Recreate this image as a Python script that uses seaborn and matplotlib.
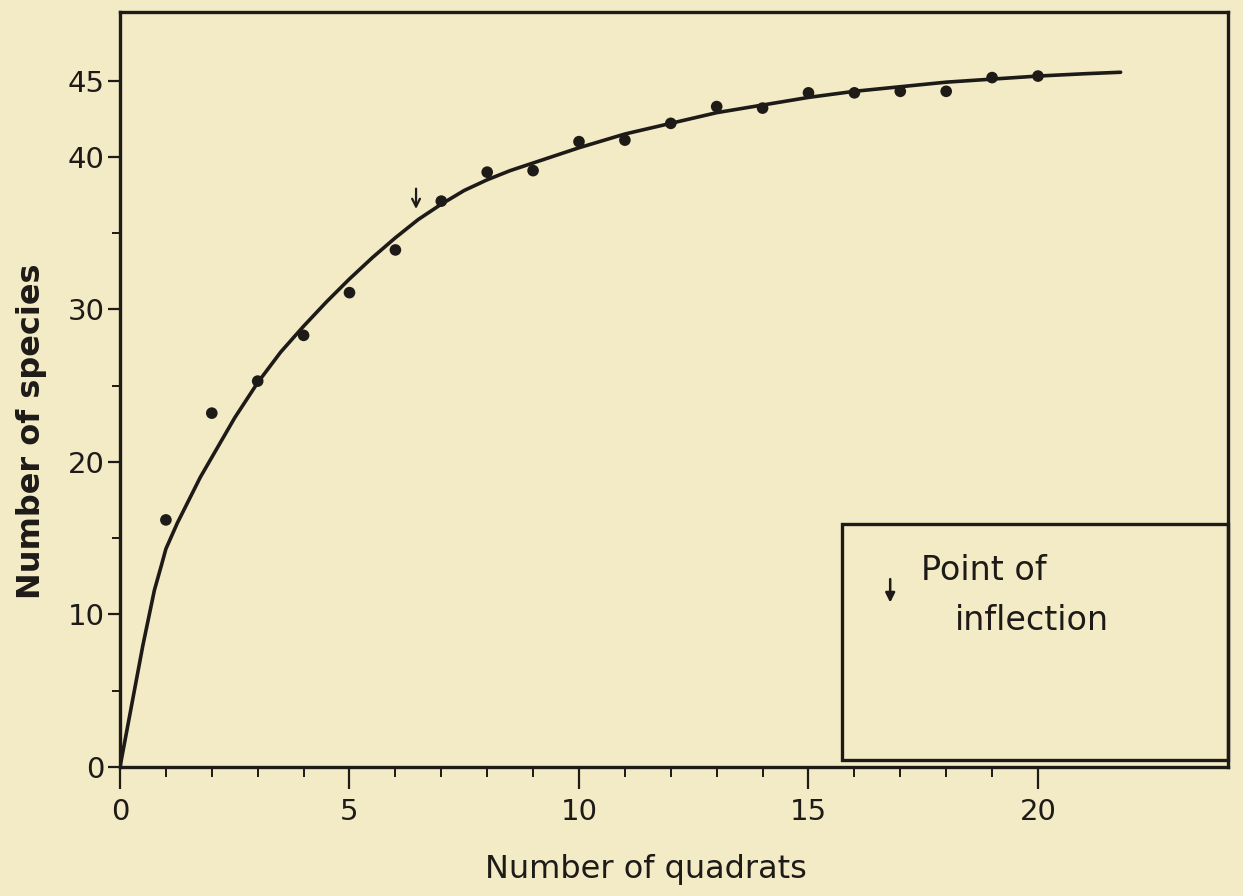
import matplotlib
matplotlib.use("Agg")
import matplotlib.pyplot as plt
import seaborn as sns
import pandas as pd
from matplotlib.patches import Rectangle
from matplotlib.ticker import FixedLocator

# ---- data ----
quadrats = [1, 2, 3, 4, 5, 6, 7, 8, 9, 10, 11, 12, 13, 14, 15, 16, 17, 18, 19, 20]
species = [16.2, 23.2, 25.3, 28.3, 31.1, 33.9, 37.1, 39.0, 39.1, 41.0,
           41.1, 42.2, 43.3, 43.2, 44.2, 44.2, 44.3, 44.3, 45.2, 45.3]

curve_x = [0, 0.5, 0.75, 0.9, 1.0, 1.25, 1.5, 1.75, 2.0, 2.5, 3.0, 3.5, 4.0,
           4.5, 5.0, 5.5, 6.0, 6.5, 7.0, 7.5, 8.0, 8.5, 9.0, 9.5, 10.0, 11.0,
           12.0, 13.0, 14.0, 15.0, 16.0, 17.0, 18.0, 19.0, 20.0, 21.0, 21.8]
curve_y = [0, 8.0, 11.6, 13.2, 14.3, 16.0, 17.5, 19.0, 20.3, 22.9, 25.2, 27.2,
           28.9, 30.5, 32.0, 33.4, 34.7, 35.9, 36.9, 37.8, 38.5, 39.1, 39.6,
           40.1, 40.6, 41.5, 42.2, 42.9, 43.4, 43.9, 44.3, 44.6, 44.9, 45.1,
           45.3, 45.45, 45.55]

inflection_x = 6.45
y_major = [0, 10, 20, 30, 40, 45]
y_minor = [5, 15, 25, 35]
x_major = [0, 5, 10, 15, 20]
x_minor = [1, 2, 3, 4, 6, 7, 8, 9, 11, 12, 13, 14, 16, 17, 18, 19]

bg = "#F2EBC6"
ink = "#1d1a17"

sns.set_theme(style="ticks")
plt.rcParams["font.family"] = ["DejaVu Sans"]

fig = plt.figure(figsize=(12.43, 8.96), dpi=100, facecolor=bg)
ax = fig.add_axes([120 / 1243, 129 / 896, 1108 / 1243, 755 / 896])
ax.set_facecolor(bg)

df_pts = pd.DataFrame({"q": quadrats, "s": species})
df_curve = pd.DataFrame({"q": curve_x, "s": curve_y})

sns.lineplot(data=df_curve, x="q", y="s", ax=ax, color=ink, lw=2.6, sort=False)
sns.scatterplot(data=df_pts, x="q", y="s", ax=ax, color=ink, s=70,
                edgecolor="none", zorder=3)

ax.set_xlim(0, 24.14)
ax.set_ylim(0, 49.5)

for sp in ax.spines.values():
    sp.set_color(ink)
    sp.set_linewidth(2.4)

ax.xaxis.set_major_locator(FixedLocator(x_major))
ax.xaxis.set_minor_locator(FixedLocator(x_minor))
ax.yaxis.set_major_locator(FixedLocator(y_major))
ax.yaxis.set_minor_locator(FixedLocator(y_minor))
ax.set_xticklabels([str(v) for v in x_major])
ax.set_yticklabels([str(v) for v in y_major])

ax.tick_params(axis="x", which="major", direction="out", length=16, width=1.6,
               color=ink, labelsize=21, labelcolor=ink, pad=6)
ax.tick_params(axis="x", which="minor", direction="out", length=7, width=1.4,
               color=ink)
ax.tick_params(axis="y", which="major", direction="out", length=9, width=1.6,
               color=ink, labelsize=21, labelcolor=ink, pad=2)
ax.tick_params(axis="y", which="minor", direction="out", length=6, width=1.4,
               color=ink)

ax.set_xlabel("Number of quadrats", fontsize=23, color=ink)
ax.set_ylabel("Number of species", fontsize=23, color=ink, fontweight="bold")
ax.xaxis.set_label_coords(0.475, -0.115)
ax.yaxis.set_label_coords(-0.066, 0.445)

# inflection arrow on the curve
ax.annotate("", xy=(inflection_x, 36.4), xytext=(inflection_x, 38.1),
            arrowprops=dict(arrowstyle="->", color=ink, lw=1.6,
                            mutation_scale=14))

# inset key box
ax.add_patch(Rectangle((15.72, 0.45), 24.14 - 15.72, 15.9 - 0.45, fill=False,
                       edgecolor=ink, lw=2.4, zorder=4, clip_on=False))
ax.annotate("", xy=(16.78, 10.6), xytext=(16.78, 12.5),
            arrowprops=dict(arrowstyle="-|>", color=ink, lw=1.8,
                            mutation_scale=14))
ax.text(17.45, 12.9, "Point of", fontsize=24, color=ink, va="center",
        ha="left")
ax.text(18.2, 9.6, "inflection", fontsize=24, color=ink, va="center",
        ha="left")

fig.savefig("out.png", dpi=100, facecolor=bg)
